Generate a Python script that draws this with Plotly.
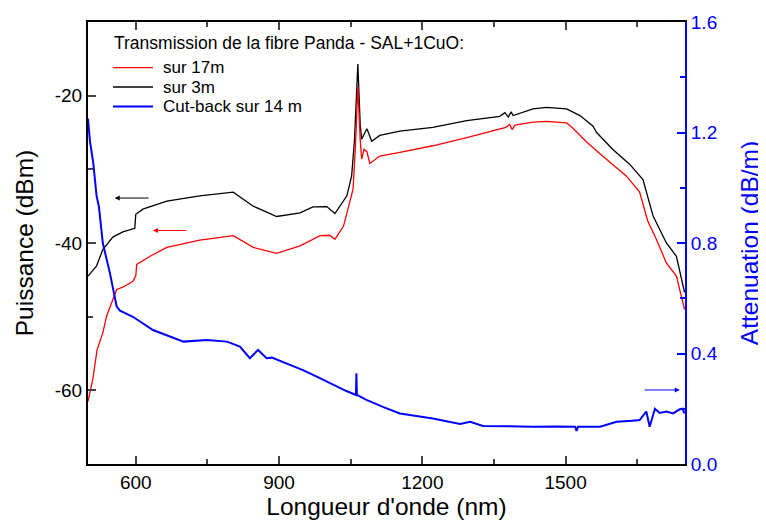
import plotly.graph_objects as go

# Wavelength (nm) and power (dBm) - sur 17m (red)
wl_red = [500, 510, 519, 531, 539, 552, 560, 573, 594, 600, 602, 630, 665, 734, 804, 846, 895, 944, 986,
          1006, 1017, 1035, 1055, 1060, 1065, 1070, 1073, 1078, 1084, 1090, 1111, 1153, 1222, 1293,
          1362, 1375, 1383, 1388, 1394, 1432, 1460, 1502, 1515, 1544, 1572, 1627, 1655, 1672, 1690,
          1711, 1732, 1749]
p_red = [-61.5, -58.5, -54.5, -52.2, -49.9, -47.5, -46.3, -46.0, -45.2, -44.5, -42.9, -41.8, -40.6, -39.6,
         -39.0, -40.6, -41.4, -40.4, -39.0, -38.95, -39.5, -37.7, -32.7, -26.8, -18.8, -26.0, -28.6,
         -27.3, -27.6, -29.2, -28.2, -27.7, -26.8, -25.7, -24.5, -24.3, -23.9, -24.6, -24.0, -23.6,
         -23.5, -23.7, -24.4, -26.3, -27.9, -30.9, -33.1, -37.0, -39.5, -42.7, -44.5, -49.0]

# sur 3m (black)
wl_black = [500, 518, 531, 552, 573, 598, 600, 615, 665, 734, 804, 846, 895, 944, 971, 1000, 1017, 1042,
            1052, 1058, 1065, 1070, 1073, 1079, 1084, 1094, 1111, 1153, 1222, 1293, 1362, 1373, 1380,
            1386, 1390, 1432, 1460, 1502, 1530, 1557, 1565, 1599, 1634, 1662, 1672, 1683, 1711, 1732,
            1749]
p_black = [-44.5, -43.1, -40.9, -39.2, -38.5, -38.0, -36.1, -35.4, -34.3, -33.6, -33.1, -35.0, -36.4,
           -35.9, -35.1, -35.05, -36.0, -33.6, -30.9, -26.0, -15.7, -24.0, -25.9, -25.0, -24.5, -26.2,
           -25.4, -24.8, -24.3, -23.4, -22.8, -22.3, -22.9, -22.2, -22.7, -21.8, -21.6, -21.8, -22.7,
           -24.1, -25.0, -27.3, -29.3, -31.4, -33.6, -36.3, -40.0, -41.8, -46.7]

# Cut-back sur 14 m (blue, attenuation dB/m)
wl_blue = [500, 504, 511, 518, 523, 525, 531, 546, 560, 567, 580, 594, 636, 660, 700, 749, 791, 818, 839,
           856, 874, 885, 908, 950, 979, 1014, 1040, 1061, 1062, 1063, 1083, 1120, 1153, 1222, 1279,
           1300, 1327, 1380, 1432, 1480, 1520, 1523, 1526, 1572, 1607, 1640, 1655, 1669, 1676, 1687,
           1697, 1711, 1725, 1739, 1745, 1749]
att_blue = [1.25, 1.17, 1.09, 0.97, 0.93, 0.90, 0.80, 0.69, 0.57, 0.555, 0.545, 0.533, 0.485, 0.47,
            0.443, 0.449, 0.443, 0.425, 0.383, 0.413, 0.383, 0.385, 0.37, 0.34, 0.316, 0.286, 0.265,
            0.25, 0.328, 0.25, 0.232, 0.205, 0.183, 0.165, 0.145, 0.153, 0.138, 0.137, 0.135, 0.136,
            0.135, 0.12, 0.135, 0.135, 0.153, 0.157, 0.159, 0.19, 0.135, 0.2, 0.185, 0.19, 0.183, 0.198,
            0.2, 0.183]

# Tick labels
left_tickvals = [-60, -40, -20]
left_ticktext = ["-60", "-40", "-20"]

legend_title = "Transmission de la fibre Panda - SAL+1CuO:"
series_names = ["sur 17m", "sur 3m", "Cut-back sur 14 m"]

FONT = "Liberation Sans, Arial, sans-serif"
RED = "#FF0000"
BLUE = "#0000FF"

fig = go.Figure()
fig.add_trace(go.Scatter(x=wl_black, y=p_black, mode="lines", name=series_names[1],
                         line=dict(color="black", width=1.3)))
fig.add_trace(go.Scatter(x=wl_red, y=p_red, mode="lines", name=series_names[0],
                         line=dict(color=RED, width=1.3)))
fig.add_trace(go.Scatter(x=wl_blue, y=att_blue, mode="lines", name=series_names[2],
                         line=dict(color=BLUE, width=2), yaxis="y2"))

# arrows pointing to the relevant axis
arrows = [
    dict(x=556, y=-33.9, ax=630, ay=-33.9, color="black", yref="y"),
    dict(x=636, y=-38.3, ax=709, ay=-38.3, color=RED, yref="y"),
    dict(x=1739, y=0.268, ax=1662, ay=0.268, color=BLUE, yref="y2"),
]
for a in arrows:
    fig.add_annotation(x=a["x"], y=a["y"], ax=a["ax"], ay=a["ay"], xref="x", yref=a["yref"],
                       axref="x", ayref=a["yref"], showarrow=True, arrowhead=2, arrowsize=1,
                       arrowwidth=1, arrowcolor=a["color"], text="")

# hand-built legend (compact row spacing as in the original)
fig.add_annotation(x=0.040, y=0.9525, xref="paper", yref="paper", xanchor="left", yanchor="middle",
                   text=legend_title, showarrow=False, font=dict(size=17.5, family=FONT))
leg_colors = [RED, "black", BLUE]
leg_widths = [1.3, 1.3, 2]
leg_y = [0.8970, 0.8529, 0.8088]
for name, col, w, yy in zip(series_names, leg_colors, leg_widths, leg_y):
    fig.add_shape(type="line", xref="paper", yref="paper", x0=0.0419, x1=0.1089, y0=yy, y1=yy,
                  line=dict(color=col, width=w))
    fig.add_annotation(x=0.1223, y=yy, xref="paper", yref="paper", xanchor="left", yanchor="middle",
                       text=name, showarrow=False, font=dict(size=17, family=FONT))

fig.update_layout(
    width=758, height=521,
    margin=dict(l=80, r=81, t=14, b=65, autoexpand=False),
    paper_bgcolor="white", plot_bgcolor="white",
    font=dict(family=FONT, size=19, color="black"),
    showlegend=False,
    xaxis=dict(range=[500, 1750], tick0=600, dtick=300, ticks="inside", ticklen=8, tickwidth=1.5,
               showline=True, linecolor="black", linewidth=2, mirror="ticks", showgrid=False,
               zeroline=False, tickfont=dict(size=19), automargin=False,
               minor=dict(ticks="inside", ticklen=5, tickwidth=1.5, dtick=150, tick0=600, showgrid=False),
               title=dict(text="Longueur d'onde (nm)", font=dict(size=24.5), standoff=6)),
    yaxis=dict(range=[-70, -10], tickvals=left_tickvals, ticktext=left_ticktext, ticks="inside",
               ticklen=8, tickwidth=1.5, automargin=False,
               showline=True, linecolor="black", linewidth=2, showgrid=False, zeroline=False,
               tickfont=dict(size=19),
               minor=dict(ticks="inside", ticklen=5, tickwidth=1.5, tickvals=[-70, -50, -30, -10],
                          showgrid=False),
               title=dict(text="Puissance (dBm)", font=dict(size=24.5), standoff=14)),
    yaxis2=dict(range=[0, 1.6], dtick=0.4, tick0=0, tickformat=".1f", overlaying="y", side="right",
                ticks="inside", ticklen=8, tickwidth=1.5, tickcolor=BLUE, automargin=False,
                showline=True, linecolor=BLUE, linewidth=2, showgrid=False, zeroline=False,
                tickfont=dict(size=19, color=BLUE),
                minor=dict(ticks="inside", ticklen=5, tickwidth=1.5, dtick=0.2, tick0=0,
                           tickcolor=BLUE, showgrid=False),
                title=dict(text="Attenuation (dB/m)", font=dict(size=24.5, color=BLUE), standoff=24)),
)

fig.write_html("out.html")
